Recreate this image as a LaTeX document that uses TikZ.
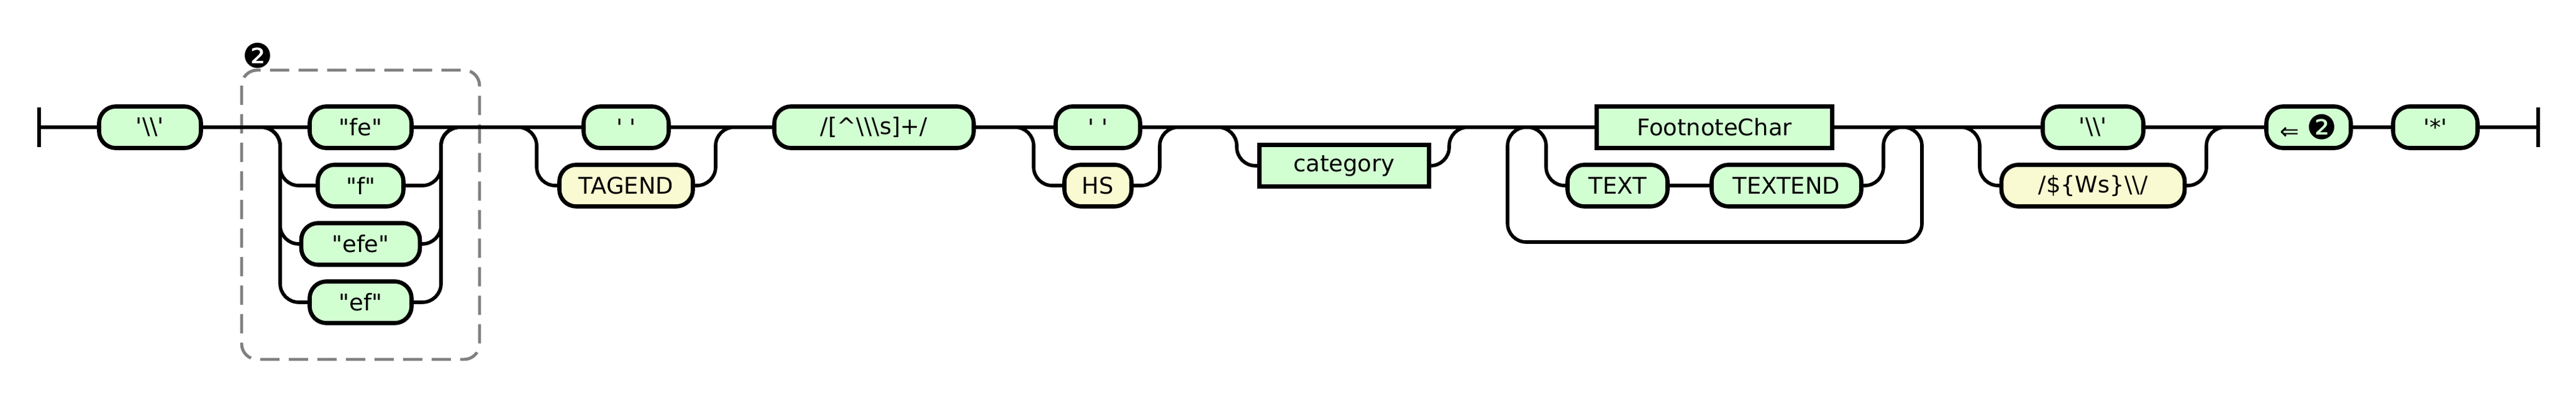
\documentclass[tikz,border=0pt]{standalone}
\usepackage{fontspec}
\newfontfamily\rrfont{DejaVu Sans}
\usetikzlibrary{positioning}
\definecolor{termfill}{HTML}{D2FFD2}
\definecolor{tokfill}{HTML}{FAFAD2}
\definecolor{groupgray}{HTML}{808080}
\newcommand{\grpmark}{{\fontsize{15.5}{16}\selectfont ❷}}

\begin{document}
\begin{tikzpicture}[every node/.style={outer sep=0pt},
    rail/.style={line width=1.6pt,rounded corners=3mm},
    box/.style={draw,line width=1.9pt,minimum height=6.7mm,inner sep=0pt,
      font=\rrfont\fontsize{10.5}{12}\selectfont},
    term/.style={box,rounded corners=2.7mm,fill=termfill},
    tok/.style={box,rounded corners=2.7mm,fill=tokfill},
    ref/.style={box,fill=termfill}]
  \useasboundingbox (0,2.05) rectangle (41.47,-4.33);

  \coordinate (start) at (0.63,0);
  \coordinate (stop) at (40.86,0);
  \coordinate (ga) at (4.51,0);  \coordinate (gb) at (7.10,0);
  \coordinate (gc) at (8.64,0);  \coordinate (gd) at (11.52,0);
  \coordinate (ge) at (16.64,0); \coordinate (gf) at (18.67,0);
  \coordinate (gg) at (19.91,0); \coordinate (gh) at (23.33,0);
  \coordinate (gi) at (31.87,0); \coordinate (gj) at (35.52,0);
  \coordinate (la) at (24.27,0); \coordinate (lb) at (30.94,0);
  \coordinate (ia) at (24.89,0); \coordinate (ib) at (30.32,0);
  \coordinate (lbot) at (0,-1.85);

  \draw[groupgray,line width=1.4pt,dash pattern=on 3.1mm off 1.5mm,
    rounded corners=2.5mm] (3.89,0.92) rectangle (7.72,-3.74);
  \node[font=\rrfont] (grp) at (4.15,1.15) {\grpmark};

  \node[term,minimum width=1.64cm] (bsl) at (2.415,0) {'\textbackslash\textbackslash'};
  \node[term,minimum width=1.64cm] (fe) at (5.805,0) {"fe"};
  \node[term,minimum width=1.38cm,below=2.7mm of fe] (f) {"f"};
  \node[term,minimum width=1.91cm,below=2.7mm of f] (efe) {"efe"};
  \node[term,minimum width=1.64cm,below=2.7mm of efe] (ef) {"ef"};
  \node[term,minimum width=1.37cm] (spa) at (10.08,0) {' '};
  \node[tok,minimum width=2.15cm,below=2.7mm of spa] (tag) {TAGEND};
  \node[term,minimum width=3.21cm] (rx) at (14.07,0)
    {/[\textasciicircum\textbackslash\textbackslash\textbackslash s]+/};
  \node[term,minimum width=1.36cm] (spb) at (17.675,0) {' '};
  \node[tok,minimum width=1.08cm,below=2.7mm of spb] (hs) {HS};
  \node[ref,minimum width=2.73cm] (cat) at (21.64,-0.62) {category};
  \node[ref,minimum width=3.79cm] (fnc) at (27.60,0) {FootnoteChar};
  \node[term,minimum width=1.61cm] (txt) at (26.04,-0.94) {TEXT};
  \node[term,minimum width=2.41cm] (txe) at (28.76,-0.94) {TEXTEND};
  \node[term,minimum width=1.62cm] (bsr) at (33.695,0) {'\textbackslash\textbackslash'};
  \node[tok,minimum width=2.95cm,below=2.7mm of bsr] (ws)
    {/\$\{Ws\}\textbackslash\textbackslash/};
  \node[term,minimum width=1.36cm] (back) at (37.165,0) {⇐ \grpmark};
  \node[term,minimum width=1.36cm] (star) at (39.205,0) {'*'};

  \draw[rail] ([yshift=3.2mm]start) -- ([yshift=-3.2mm]start);
  \draw[rail] ([yshift=3.2mm]stop) -- ([yshift=-3.2mm]stop);
  \foreach \a/\b in {start/bsl.west,bsl.east/fe.west,fe.east/spa.west,
    spa.east/rx.west,rx.east/spb.west,spb.east/fnc.west,fnc.east/bsr.west,
    bsr.east/back.west,back.east/star.west,star.east/stop}
   \draw[rail] (\a) -- (\b);

  \foreach \n/\l/\r in {f/ga/gb,efe/ga/gb,ef/ga/gb,tag/gc/gd,hs/ge/gf,
    cat/gg/gh,ws/gi/gj}
  {
   \draw[rail] ([xshift=-3mm]\l) -- (\l) |- (\n.west);
   \draw[rail] (\n.east) -| (\r) -- ([xshift=3mm]\r);
  }
  \draw[rail] ([xshift=-3mm]ia) -- (ia) |- (txt.west);
  \draw[rail] (txt) -- (txe);
  \draw[rail] (txe.east) -| (ib) -- ([xshift=3mm]ib);
  \draw[rail] ([xshift=3mm]la) -- (la) |- (lb |- lbot) -- (lb) -- ([xshift=-3mm]lb);
\end{tikzpicture}
\end{document}
